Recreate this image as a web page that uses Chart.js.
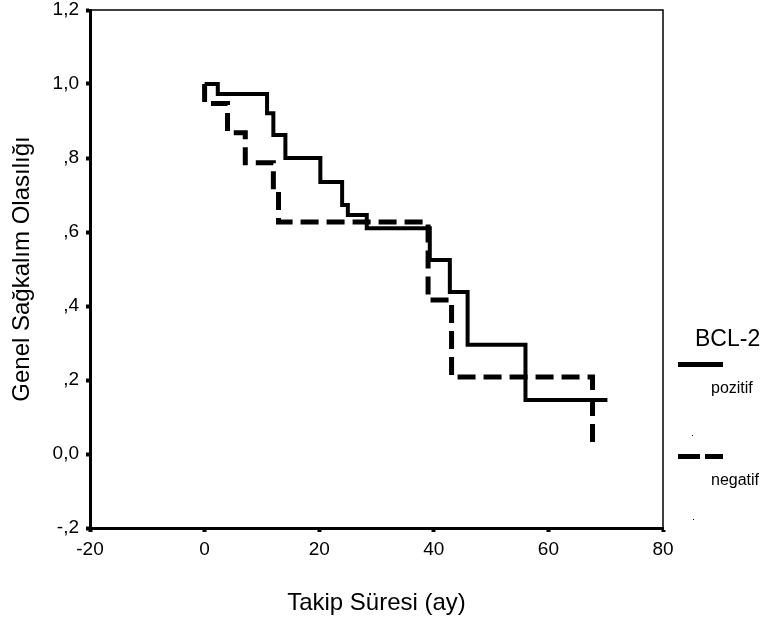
<!DOCTYPE html>
<html>
<head>
<meta charset="utf-8">
<script src="https://cdn.jsdelivr.net/npm/chart.js@4/dist/chart.umd.min.js"></script>
<style>
  html, body { margin: 0; padding: 0; background: #fff; }
  #wrap { width: 766px; height: 626px; position: relative; }
</style>
</head>
<body>
<div id="wrap"><canvas id="c" width="766" height="626"></canvas></div>
<script>
// ---- data ----
const legendTitle = 'BCL-2';
const seriesNames = ['pozitif', 'negatif'];
const xTitle = 'Takip Süresi (ay)';
const yTitle = 'Genel Sağkalım Olasılığı';

const posTimes = [0, 2.3, 10.9, 12.0, 14.1, 20.2, 24.0, 25.0, 28.3, 39.3, 42.8, 45.9, 56.0, 70.3];
const posSurv  = [1.0, 0.973, 0.921, 0.862, 0.80, 0.735, 0.673, 0.646, 0.61, 0.524, 0.438, 0.295, 0.146, 0.146];

const negTimes = [0, 0, 4.0, 7.1, 12.0, 12.9, 39.0, 43.1, 67.7];
const negSurv  = [1.0, 0.947, 0.868, 0.787, 0.708, 0.627, 0.416, 0.208, 0.015];

const xTickLabels = ['-20', '0', '20', '40', '60', '80'];
const yTickLabels = ['-,2', '0,0', ',2', ',4', ',6', ',8', '1,0', '1,2'];

const FONT = "'Liberation Sans', Arial, Helvetica, sans-serif";

function toPoints(xs, ys) { return xs.map((x, i) => ({ x: x, y: ys[i] })); }

const boxPlugin = {
  id: 'boxPlugin',
  afterDraw(chart) {
    const { ctx, chartArea: a } = chart;
    ctx.save();
    ctx.strokeStyle = '#000';
    ctx.lineWidth = 1.5;
    ctx.beginPath();
    ctx.moveTo(a.left, a.top);
    ctx.lineTo(a.right, a.top);
    ctx.lineTo(a.right, a.bottom);
    ctx.stroke();

    // legend
    const ds = chart.data.datasets;
    ctx.fillStyle = '#000';
    ctx.textBaseline = 'alphabetic';
    ctx.textAlign = 'left';
    ctx.font = '23px ' + FONT;
    ctx.fillText(legendTitle, 695, 346);
    const lineY = [364.5, 456.5];
    const textY = [393, 485];
    const dashes = [[], [22, 5]];
    ds.forEach((d, i) => {
      ctx.beginPath();
      ctx.setLineDash(dashes[i]);
      ctx.lineWidth = 5;
      ctx.lineCap = 'butt';
      ctx.strokeStyle = '#000';
      ctx.moveTo(678, lineY[i]);
      ctx.lineTo(723, lineY[i]);
      ctx.stroke();
      ctx.setLineDash([]);
      ctx.font = '16px ' + FONT;
      ctx.fillText(d.label, 711, textY[i]);
    });
    ctx.fillRect(692, 435, 1, 1);
    ctx.fillRect(693, 519, 1, 1);
    ctx.restore();
  }
};

new Chart(document.getElementById('c'), {
  type: 'line',
  data: {
    datasets: [
      {
        label: seriesNames[0],
        data: toPoints(posTimes, posSurv),
        borderColor: '#000',
        borderWidth: 4,
        stepped: 'before',
        pointRadius: 0,
        fill: false,
        borderCapStyle: 'butt',
        borderJoinStyle: 'miter'
      },
      {
        label: seriesNames[1],
        data: toPoints(negTimes, negSurv),
        borderColor: '#000',
        borderWidth: 5,
        borderDash: [18, 8],
        stepped: 'before',
        pointRadius: 0,
        fill: false,
        borderCapStyle: 'butt',
        borderJoinStyle: 'miter'
      }
    ]
  },
  options: {
    responsive: false,
    animation: false,
    layout: { padding: { left: 0, right: 103, top: 10, bottom: 0 } },
    plugins: { legend: { display: false }, tooltip: { enabled: false } },
    scales: {
      x: {
        type: 'linear',
        min: -20, max: 80,
        border: { display: true, width: 3, color: '#000' },
        grid: { drawOnChartArea: false, drawTicks: true, tickLength: 4, tickWidth: 4, tickColor: '#000', color: '#000' },
        ticks: {
          stepSize: 20, color: '#000', padding: 6, maxRotation: 0,
          font: { family: FONT, size: 19 },
          callback: (v, i) => xTickLabels[i]
        },
        title: { display: true, text: xTitle, color: '#000', font: { family: FONT, size: 24 }, padding: { top: 0, bottom: 8 } },
        afterFit(axis) { axis.height = 98; axis.paddingLeft = 0; axis.paddingRight = 0; }
      },
      y: {
        type: 'linear',
        min: -0.2, max: 1.2,
        border: { display: true, width: 3, color: '#000' },
        grid: { drawOnChartArea: false, drawTicks: true, tickLength: 4, tickWidth: 4, tickColor: '#000', color: '#000' },
        ticks: {
          stepSize: 0.2, color: '#000', padding: 7,
          font: { family: FONT, size: 19 },
          callback: (v, i) => yTickLabels[i]
        },
        title: { display: true, text: yTitle, color: '#000', font: { family: FONT, size: 24 }, padding: { top: 8, bottom: 0 } },
        afterFit(axis) { axis.width = 90; axis.paddingTop = 0; axis.paddingBottom = 0; }
      }
    }
  },
  plugins: [boxPlugin]
});
</script>
</body>
</html>
